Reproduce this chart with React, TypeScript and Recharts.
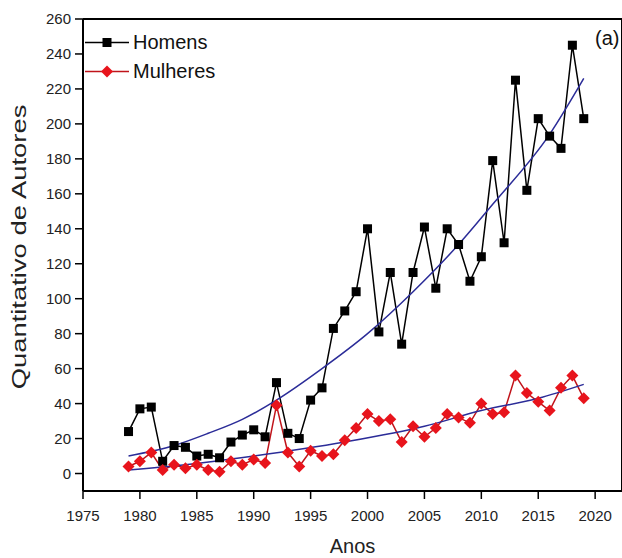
import { LineChart, Line, XAxis, YAxis, Legend, ReferenceLine } from 'recharts'

const years = [
  1979, 1980, 1981, 1982, 1983, 1984, 1985, 1986, 1987, 1988, 1989, 1990, 1991, 1992,
  1993, 1994, 1995, 1996, 1997, 1998, 1999, 2000, 2001, 2002, 2003, 2004, 2005, 2006,
  2007, 2008, 2009, 2010, 2011, 2012, 2013, 2014, 2015, 2016, 2017, 2018, 2019,
]
const homens = [
  24, 37, 38, 7, 16, 15, 10, 11, 9, 18, 22, 25, 21, 52,
  23, 20, 42, 49, 83, 93, 104, 140, 81, 115, 74, 115, 141, 106,
  140, 131, 110, 124, 179, 132, 225, 162, 203, 193, 186, 245, 203,
]
const mulheres = [
  4, 7, 12, 2, 5, 3, 5, 2, 1, 7, 5, 8, 6, 39,
  12, 4, 13, 10, 11, 19, 26, 34, 30, 31, 18, 27, 21, 26,
  34, 32, 29, 40, 34, 35, 56, 46, 41, 36, 49, 56, 43,
]

// fitted curves at a few points
const homensTrendYears = [1979, 1983, 1986, 1989, 1992, 1996, 2000, 2004, 2008, 2011, 2016, 2019]
const homensTrend = [10, 16, 23, 31, 42, 60, 80, 104, 131, 154, 194, 226]
const mulheresTrendYears = [1979, 1984, 1990, 1998, 2005, 2010, 2015, 2019]
const mulheresTrend = [2, 5, 10, 18, 27, 36, 43, 51]

const xTicks = [1975, 1977.5, 1980, 1982.5, 1985, 1987.5, 1990, 1992.5, 1995, 1997.5, 2000, 2002.5, 2005, 2007.5, 2010, 2012.5, 2015, 2017.5, 2020]
const yTicks = [0, 10, 20, 30, 40, 50, 60, 70, 80, 90, 100, 110, 120, 130, 140, 150, 160, 170, 180, 190, 200, 210, 220, 230, 240, 250, 260]

const data = years.map((ano, i) => ({ ano, Homens: homens[i], Mulheres: mulheres[i] }))
const homensFit = homensTrendYears.map((ano, i) => ({ ano, fit: homensTrend[i] }))
const mulheresFit = mulheresTrendYears.map((ano, i) => ({ ano, fit: mulheresTrend[i] }))

const FONT = '"Liberation Sans", Arial, sans-serif'
const RED = '#e8141c'
const NAVY = '#2b2c98'

const Square = ({ cx, cy }: any) => (
  <rect x={cx - 4.5} y={cy - 4.5} width={9} height={9} fill="#000" />
)
const Diamond = ({ cx, cy }: any) => (
  <polygon points={`${cx},${cy - 6} ${cx + 6},${cy} ${cx},${cy + 6} ${cx - 6},${cy}`} fill={RED} />
)

const YTick = ({ x, y, payload }: any) => {
  const major = payload.value % 20 === 0
  const len = major ? 8 : 5
  return (
    <g>
      <line x1={x} x2={x - len} y1={y} y2={y} stroke="#000" strokeWidth={1.5} />
      {major && (
        <text x={x - 12} y={y} dy={5} textAnchor="end" fontSize={15} fontFamily={FONT} fill="#222">
          {payload.value}
        </text>
      )}
    </g>
  )
}

const XTick = ({ x, y, payload }: any) => {
  const major = payload.value % 5 === 0
  const len = major ? 8 : 5
  return (
    <g>
      <line x1={x} x2={x} y1={y} y2={y + len} stroke="#000" strokeWidth={1.5} />
      {major && (
        <text x={x} y={y + 30} textAnchor="middle" fontSize={15} fontFamily={FONT} fill="#222">
          {payload.value}
        </text>
      )}
    </g>
  )
}

const LegendBox = ({ payload }: any) => (
  <div style={{ fontFamily: FONT, fontSize: 20, color: '#111' }}>
    {(payload || [])
      .filter((p: any) => p.value === 'Homens' || p.value === 'Mulheres')
      .map((p: any) => (
        <div key={p.value} style={{ display: 'flex', alignItems: 'center', height: 29 }}>
          <svg width={49} height={29}>
            <line x1={1} x2={45} y1={14.5} y2={14.5} stroke={p.color} strokeWidth={1.5} />
            {p.value === 'Homens' ? <Square cx={23} cy={14.5} /> : <Diamond cx={23} cy={14.5} />}
          </svg>
          <span>{p.value}</span>
        </div>
      ))}
  </div>
)

export default function App() {
  return (
    <div style={{ position: 'absolute', left: 0, top: 0, width: 622, height: 558, background: '#fff' }}>
      <LineChart width={622} height={558} data={data} margin={{ top: 19, right: 0, left: 0, bottom: 0 }}>
        <XAxis
          dataKey="ano"
          type="number"
          domain={[1975, 2022.36]}
          ticks={xTicks}
          allowDataOverflow
          height={67}
          tickSize={0}
          tickMargin={0}
          tick={<XTick />}
          axisLine={{ stroke: '#000', strokeWidth: 2 }}
          label={{ value: 'Anos', position: 'insideBottom', offset: 5, fontSize: 20, fontFamily: FONT, fill: '#222' }}
        />
        <YAxis
          type="number"
          domain={[-10, 260]}
          ticks={yTicks}
          allowDataOverflow
          width={83}
          tickSize={0}
          tickMargin={0}
          tick={<YTick />}
          axisLine={{ stroke: '#000', strokeWidth: 2 }}
          label={{
            content: () => (
              <text
                transform="translate(26,247) rotate(-90) scale(1.37,1)"
                textAnchor="middle"
                fontSize={20}
                fontFamily={FONT}
                fill="#222"
              >
                Quantitativo de Autores
              </text>
            ),
          }}
        />
        <ReferenceLine y={260} stroke="#000" strokeWidth={2} ifOverflow="visible" />
        <ReferenceLine x={2022.36} stroke="#000" strokeWidth={2} ifOverflow="visible" />
        <Legend
          layout="vertical"
          verticalAlign="middle"
          align="center"
          content={<LegendBox />}
          wrapperStyle={{ position: 'absolute', left: 84, top: 28, width: 'auto' }}
        />
        <Line
          dataKey="Homens"
          stroke="#000"
          strokeWidth={1.5}
          dot={<Square />}
          activeDot={false}
          isAnimationActive={false}
        />
        <Line
          dataKey="Mulheres"
          stroke="#c0141b"
          strokeWidth={1.5}
          dot={<Diamond />}
          activeDot={false}
          isAnimationActive={false}
        />
        <Line
          data={homensFit}
          dataKey="fit"
          type="monotone"
          stroke={NAVY}
          strokeWidth={1.5}
          dot={false}
          legendType="none"
          isAnimationActive={false}
        />
        <Line
          data={mulheresFit}
          dataKey="fit"
          type="monotone"
          stroke={NAVY}
          strokeWidth={1.5}
          dot={false}
          legendType="none"
          isAnimationActive={false}
        />
      </LineChart>
      <span style={{ position: 'absolute', left: 595, top: 27, fontFamily: FONT, fontSize: 20, color: '#111' }}>
        (a)
      </span>
    </div>
  )
}
